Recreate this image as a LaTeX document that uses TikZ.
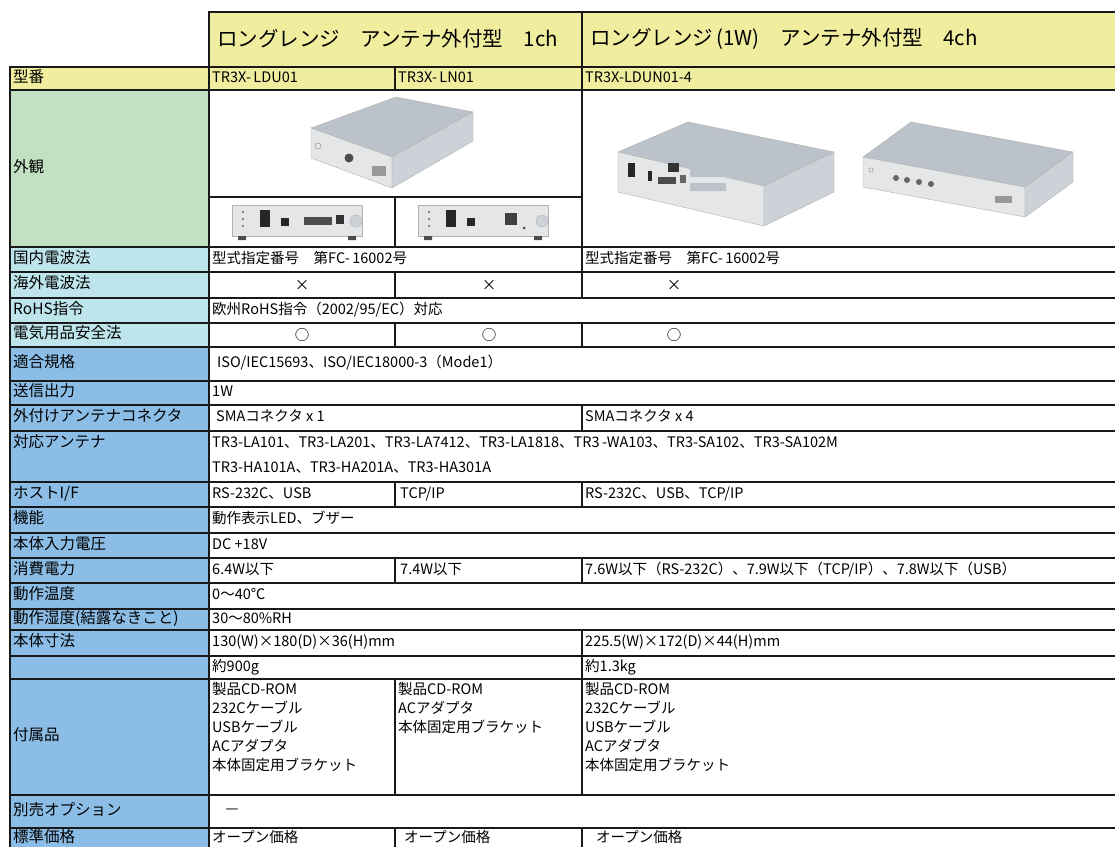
\documentclass[tikz,border=0pt]{standalone}
\usepackage{fontspec}
\setmainfont{Noto Sans CJK JP}
\definecolor{hdyellow}{HTML}{F0EE9E}
\definecolor{lblgreen}{HTML}{C2E1C3}
\definecolor{lblcyan}{HTML}{BEE5EC}
\definecolor{lblblue}{HTML}{8BBDE6}
\definecolor{devtop}{HTML}{BCC2CA}
\definecolor{devfront}{HTML}{E4E6E8}
\definecolor{devside}{HTML}{CDD2D8}

\begin{document}
\begin{tikzpicture}[x=1pt,y=-1pt,
  tline/.style={line width=2.4pt,line cap=rect,black!90},
  lbl/.style={anchor=west,inner sep=0pt,text height=0.88em,text depth=0.12em,font=\fontsize{15.5}{18}\selectfont},
  cell/.style={anchor=west,inner sep=0pt,text height=0.88em,text depth=0.12em,font=\fontsize{14.5}{19}\selectfont},
  sym/.style={inner sep=0pt,font=\fontsize{14.5}{19}\selectfont},
  head/.style={anchor=west,inner sep=0pt,font=\fontsize{20.5}{24}\selectfont},
  list/.style={anchor=north west,inner sep=0pt,align=left,font=\fontsize{14.5}{19}\selectfont},
  body/.style={draw=black!30,line width=.4pt}]
  \useasboundingbox (0,0) rectangle (1115,846);
  \clip (0,0) rectangle (1115,846);
  \fill[white] (0,0) rectangle (1115,846);
  \fill[hdyellow] (209,12) rectangle (1130,90);
  \fill[hdyellow] (10,67) rectangle (209,90);
  \fill[lblgreen] (10,90) rectangle (209,247);
  \fill[lblcyan] (10,247) rectangle (209,347);
  \fill[lblblue] (10,347) rectangle (209,870);

  % 1ch unit
  \filldraw[body,fill=devtop] (311,128) -- (396,97) -- (473,112) -- (392,157) -- cycle;
  \filldraw[body,fill=devfront] (311,128) -- (392,157) -- (392,188) -- (311,158) -- cycle;
  \filldraw[body,fill=devside] (392,157) -- (473,112) -- (473,141) -- (392,188) -- cycle;
  \fill[black!70] (349,158) circle (4.5);
  \draw[black!45] (318,146) circle (3);
  \fill[black!40] (372,166) rectangle (386,176);
  % back panels
  \filldraw[body,fill=devfront] (232,205) rectangle (362,236);
  \fill[black!70] (238,236) rectangle (246,240) (348,236) rectangle (356,240);
  \fill[black!60] (243,212) circle (1.2) (243,219) circle (1.2) (243,226) circle (1.2);
  \fill[black!85] (260,210) rectangle (270,227);
  \fill[black!85] (281,218) rectangle (289,226);
  \fill[black!70] (304,217) rectangle (332,225);
  \fill[black!80] (336,215) rectangle (344,224);
  \filldraw[body,fill=devside] (356,221) circle (6);
  \begin{scope}[xshift=186pt]
    \filldraw[body,fill=devfront] (232,205) rectangle (362,236);
    \fill[black!70] (238,236) rectangle (246,240) (348,236) rectangle (356,240);
    \fill[black!60] (243,212) circle (1.2) (243,219) circle (1.2) (243,226) circle (1.2);
    \fill[black!85] (260,210) rectangle (270,227);
    \fill[black!85] (281,218) rectangle (289,226);
    \fill[black!75] (319,213) rectangle (331,225);
    \fill[black!70] (338,228) circle (1.5);
    \filldraw[body,fill=devside] (356,221) circle (6);
  \end{scope}
  % 4ch units
  \filldraw[body,fill=devtop] (618,152) -- (688,122) -- (834,152) -- (764,186) -- cycle;
  \filldraw[body,fill=devfront] (618,152) -- (764,186) -- (764,226) -- (618,192) -- cycle;
  \filldraw[body,fill=devside] (764,186) -- (834,152) -- (834,192) -- (764,226) -- cycle;
  \fill[black!85] (628,163) rectangle (635,177);
  \fill[black!85] (648,171) rectangle (652,181);
  \fill[black!70] (658,177) rectangle (676,184);
  \fill[black!80] (668,163) rectangle (679,172);
  \fill[black!60] (680,175) rectangle (686,183);
  \fill[devtop] (690,168) rectangle (726,177) (690,183) rectangle (726,191);
  \filldraw[body,fill=devtop] (863,157) -- (911,122) -- (1073,152) -- (1025,187) -- cycle;
  \filldraw[body,fill=devfront] (863,157) -- (1025,187) -- (1025,217) -- (863,187) -- cycle;
  \filldraw[body,fill=devside] (1025,187) -- (1073,152) -- (1073,182) -- (1025,217) -- cycle;
  \fill[black!60] (896,178) circle (3) (907,180) circle (3) (919,182) circle (3) (931,184) circle (3);
  \draw[black!45] (871,170) circle (2.2);
  \fill[black!40] (995,196) rectangle (1012,203);

  \draw[tline] (209,12) -- (1130,12) (209,12) -- (209,870) (10,67) -- (10,870);
  \draw[tline] (10,67) -- (1130,67) (10,90) -- (1130,90) (10,247) -- (1130,247)
    (10,272) -- (1130,272) (10,298) -- (1130,298) (10,323) -- (1130,323)
    (10,347) -- (1130,347) (10,381) -- (1130,381) (10,405) -- (1130,405)
    (10,431) -- (1130,431) (10,482) -- (1130,482) (10,507) -- (1130,507)
    (10,533) -- (1130,533) (10,558) -- (1130,558) (10,583) -- (1130,583)
    (10,609) -- (1130,609) (10,630) -- (1130,630) (10,656) -- (1130,656)
    (10,679) -- (1130,679) (10,795) -- (1130,795) (10,828) -- (1130,828)
    (209,197) -- (582,197);
  \draw[tline] (582,12) -- (582,298) (582,323) -- (582,347) (582,405) -- (582,431)
    (582,482) -- (582,507) (582,558) -- (582,583) (582,630) -- (582,795) (582,828) -- (582,870);
  \draw[tline] (395,67) -- (395,90) (395,197) -- (395,247) (395,272) -- (395,298)
    (395,323) -- (395,347) (395,482) -- (395,507) (395,558) -- (395,583)
    (395,679) -- (395,795) (395,828) -- (395,870);

  \node[head] (hd1) at (217,39) {ロングレンジ　アンテナ外付型　1ch};
  \node[head] (hd4) at (590,39) {ロングレンジ\,(1W)　アンテナ外付型　4ch};

  \node[lbl] (lbModel) at (13,78.5) {型番};
  \node[lbl] (lbLook) at (13,168.5) {外観};
  \node[lbl] (lbRadio) at (13,259.5) {国内電波法};
  \node[lbl] (lbAbroad) at (13,285) {海外電波法};
  \node[lbl] (lbRohs) at (13,310.5) {RoHS指令};
  \node[lbl] (lbSafety) at (13,335) {電気用品安全法};
  \node[lbl] (lbStd) at (13,364) {適合規格};
  \node[lbl] (lbPower) at (13,393) {送信出力};
  \node[lbl] (lbConn) at (13,418) {外付けアンテナコネクタ};
  \node[lbl] (lbAnt) at (13,444) {対応アンテナ};
  \node[lbl] (lbHost) at (13,494.5) {ホストI/F};
  \node[lbl] (lbFunc) at (13,520) {機能};
  \node[lbl] (lbVolt) at (13,545.5) {本体入力電圧};
  \node[lbl] (lbCons) at (13,570.5) {消費電力};
  \node[lbl] (lbTemp) at (13,596) {動作温度};
  \node[lbl] (lbHum) at (13,619.5) {動作湿度(結露なきこと)};
  \node[lbl] (lbSize) at (13,643) {本体寸法};
  \node[lbl] (lbAcc) at (13,737) {付属品};
  \node[lbl] (lbOpt) at (13,811.5) {別売オプション};
  \node[lbl] (lbPrice) at (13,839) {標準価格};

  \node[cell] (mdB) at (212,78.5) {TR3X-\,LDU01};
  \node[cell] (mdC) at (398,78.5) {TR3X-\,LN01};
  \node[cell] (mdD) at (585,78.5) {TR3X-LDUN01-4};
  \node[cell] (raB) at (212,259.5) {型式指定番号　第FC-\,16002号};
  \node[cell] (raD) at (585,259.5) {型式指定番号　第FC-\,16002号};
  \node[sym] (abB) at (302,285) {×};
  \node[sym] (abC) at (489,285) {×};
  \node[sym] (abD) at (674,285) {×};
  \node[cell] (roB) at (212,310.5) {欧州RoHS指令（2002/95/EC）対応};
  \node[sym] (saB) at (302,335) {○};
  \node[sym] (saC) at (489,335) {○};
  \node[sym] (saD) at (674,335) {○};
  \node[cell] (stB) at (217,364) {ISO/IEC15693、ISO/IEC18000-3（Mode1）};
  \node[cell] (pwB) at (212,393) {1W};
  \node[cell] (coB) at (216,418) {SMAコネクタ x 1};
  \node[cell] (coD) at (585,418) {SMAコネクタ x 4};
  \node[cell] (anB) at (212,444) {TR3-LA101、TR3-LA201、TR3-LA7412、TR3-LA1818、TR3\,-WA103、TR3-SA102、TR3-SA102M};
  \node[cell] (anB2) at (212,469) {TR3-HA101A、TR3-HA201A、TR3-HA301A};
  \node[cell] (hoB) at (212,494.5) {RS-232C、USB};
  \node[cell] (hoC) at (400,494.5) {TCP/IP};
  \node[cell] (hoD) at (585,494.5) {RS-232C、USB、TCP/IP};
  \node[cell] (fuB) at (212,520) {動作表示LED、ブザー};
  \node[cell] (voB) at (212,545.5) {DC +18V};
  \node[cell] (csB) at (212,570.5) {6.4W以下};
  \node[cell] (csC) at (400,570.5) {7.4W以下};
  \node[cell] (csD) at (585,570.5) {7.6W以下（RS-232C）、7.9W以下（TCP/IP）、7.8W以下（USB）};
  \node[cell] (teB) at (212,596) {0〜40℃};
  \node[cell] (huB) at (212,619.5) {30〜80\%RH};
  \node[cell] (siB) at (212,643) {130(W)×180(D)×36(H)mm};
  \node[cell] (siD) at (585,643) {225.5(W)×172(D)×44(H)mm};
  \node[cell] (wtB) at (212,667.5) {約900g};
  \node[cell] (wtD) at (585,667.5) {約1.3kg};
  \node[list] (acB) at (212,682) {製品CD-ROM\\232Cケーブル\\USBケーブル\\ACアダプタ\\本体固定用ブラケット};
  \node[list] (acC) at (398,682) {製品CD-ROM\\ACアダプタ\\本体固定用ブラケット};
  \node[list] (acD) at (585,682) {製品CD-ROM\\232Cケーブル\\USBケーブル\\ACアダプタ\\本体固定用ブラケット};
  \node[sym] (opB) at (232,811.5) {—};
  \node[cell] (prB) at (212,839) {オープン価格};
  \node[cell] (prC) at (404,839) {オープン価格};
  \node[cell] (prD) at (596,839) {オープン価格};
\end{tikzpicture}
\end{document}
